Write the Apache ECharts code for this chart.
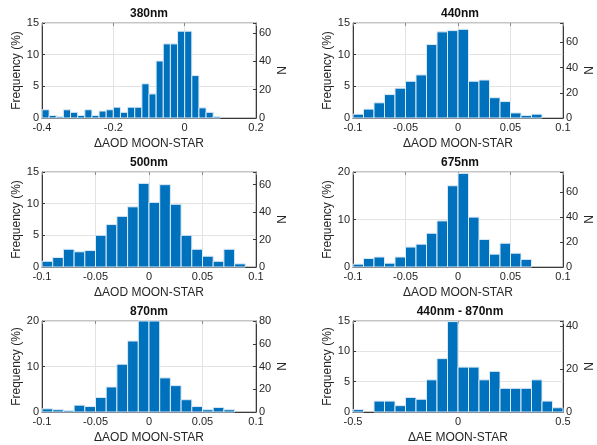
<!DOCTYPE html>
<html><head><meta charset="utf-8">
<script src="https://cdn.jsdelivr.net/npm/echarts@6/dist/echarts.min.js"></script>
<style>html,body{margin:0;padding:0;background:#fff}#c{width:597px;height:445px}</style>
</head><body><div id="c"></div>
<script>
// ---------------- data ----------------
const titles = ['380nm', '440nm', '500nm', '675nm', '870nm', '440nm - 870nm'];
const xNames = ['\u0394AOD MOON-STAR', '\u0394AOD MOON-STAR', '\u0394AOD MOON-STAR',
                '\u0394AOD MOON-STAR', '\u0394AOD MOON-STAR', '\u0394AE MOON-STAR'];

// x axis ranges and tick steps
const xMin = [-0.4, -0.1, -0.1, -0.1, -0.1, -0.5];
const xMax = [0.2, 0.1, 0.1, 0.1, 0.1, 0.5];
const xStep = [0.2, 0.05, 0.05, 0.05, 0.05, 0.5];
// left (frequency %) axis ranges
const yMax = [15, 15, 15, 20, 20, 15];
const yStep = [5, 5, 5, 10, 10, 5];
// N equivalent to 100 % (right axis scale)
const nTotal = [447, 502, 461, 380, 400, 282];
const nStep = [20, 20, 20, 20, 20, 20];

// histogram bins: first edge and bin width
const binStart = [-0.4, -0.1, -0.1, -0.1, -0.1, -0.5];
const binWidth = [0.02, 0.01, 0.01, 0.01, 0.01, 0.05];

// frequencies (%) per bin
const freq380 = [1.3, 0.4, 0.2, 1.3, 0.9, 0.4, 1.3, 0.4, 1.1, 1.3, 1.7, 0.9, 1.7, 1.7,
                 5.4, 3.8, 9.0, 11.7, 11.7, 13.7, 13.7, 6.7, 1.6, 0.9, 0.2];
const freq440 = [0.6, 1.4, 2.4, 3.7, 4.7, 5.8, 6.8, 11.6, 13.6, 13.8, 14.0,
                 5.8, 6.0, 3.2, 2.6, 0.8, 0.4, 0.6];
const freq500 = [0.9, 1.5, 2.8, 2.4, 2.6, 5.0, 6.7, 8.0, 9.5, 13.2, 10.2,
                 13.0, 9.9, 5.0, 2.8, 1.7, 0.9, 2.8, 0.5];
const freq675 = [0.6, 1.8, 2.1, 0.8, 2.1, 4.2, 4.8, 7.1, 9.7, 17.1, 19.7,
                 10.5, 5.8, 2.7, 5.0, 2.9, 1.6];
const freq870 = [0.7, 0.5, 0.3, 1.5, 1.2, 3.2, 5.5, 10.5, 15.6, 21.0, 20.4,
                 7.5, 5.8, 2.7, 1.2, 0.5, 1.0, 0.5];
const freqAE = [0.4, 0.0, 1.8, 1.8, 1.05, 2.4, 2.1, 5.3, 8.8, 14.9, 7.4, 7.4,
                5.3, 6.7, 3.9, 3.9, 3.9, 5.3, 1.8, 0.7];
const freqs = [freq380, freq440, freq500, freq675, freq870, freqAE];

// ---------------- layout / style ----------------
const FONT = '"Liberation Sans", Arial, Helvetica, sans-serif';
const gridLeft = [42, 353, 42, 353, 42, 353];
const gridTop = [23, 23, 172, 172, 321, 321];
const gridW = 214, gridH = 95;
const AX = '#3a3a3a', TXT = '#262626', GRIDC = '#e3e3e3';

function binData(i) {
  return freqs[i].map((f, k) => [binStart[i] + k * binWidth[i], binStart[i] + (k + 1) * binWidth[i], f]);
}

function renderBar(params, api) {
  const x0 = api.value(0), x1 = api.value(1), y = api.value(2);
  if (!(y > 0)) return null;
  const p0 = api.coord([x0, 0]);
  const p1 = api.coord([x1, y]);
  const cs = params.coordSys;
  const rect = echarts.graphic.clipRectByRect(
    { x: p0[0], y: p1[1], width: p1[0] - p0[0], height: p0[1] - p1[1] },
    { x: cs.x, y: cs.y, width: cs.width, height: cs.height });
  return rect && {
    type: 'rect', shape: rect,
    style: { fill: '#0072BD', stroke: '#dce9f5', lineWidth: 1 }
  };
}

const grid = [], xAxis = [], yAxis = [], series = [], title = [];
for (let i = 0; i < 6; i++) {
  grid.push({ left: gridLeft[i], top: gridTop[i], width: gridW, height: gridH,
              show: true, borderColor: '#8a8a8a', borderWidth: 1, containLabel: false });
  title.push({
    text: titles[i], left: gridLeft[i] + gridW / 2, top: gridTop[i] - 15, textAlign: 'center',
    padding: 0,
    textStyle: { fontFamily: FONT, fontSize: 12, fontWeight: 'bold', color: '#111' }
  });
  xAxis.push({
    type: 'value', gridIndex: i, min: xMin[i], max: xMax[i], interval: xStep[i],
    position: 'bottom',
    name: xNames[i], nameLocation: 'middle', nameGap: 20,
    nameTextStyle: { fontFamily: FONT, fontSize: 12, color: TXT },
    axisLine: { show: true, onZero: false, lineStyle: { color: AX, width: 1 } },
    axisTick: { show: true, inside: true, length: 3, lineStyle: { color: AX } },
    axisLabel: { fontFamily: FONT, fontSize: 11, color: TXT, margin: 4,
                 formatter: v => String(Math.round(v * 1000) / 1000) },
    splitLine: { show: true, lineStyle: { color: GRIDC, width: 1 } }
  });
  xAxis.push({
    type: 'value', gridIndex: i, min: xMin[i], max: xMax[i], interval: xStep[i],
    position: 'top',
    axisLine: { show: false, onZero: false },
    axisTick: { show: true, inside: true, length: 3, lineStyle: { color: '#8a8a8a' } },
    axisLabel: { show: false }, splitLine: { show: false }
  });
  yAxis.push({
    type: 'value', gridIndex: i, min: 0, max: yMax[i], interval: yStep[i],
    position: 'left',
    name: 'Frequency (%)', nameLocation: 'middle', nameGap: 17,
    nameTextStyle: { fontFamily: FONT, fontSize: 12, color: TXT },
    axisLine: { show: true, onZero: false, lineStyle: { color: AX, width: 1 } },
    axisTick: { show: true, inside: true, length: 3, lineStyle: { color: AX } },
    axisLabel: { fontFamily: FONT, fontSize: 11, color: TXT, margin: 3 },
    splitLine: { show: true, lineStyle: { color: GRIDC, width: 1 } }
  });
  const nMax = yMax[i] * nTotal[i] / 100;
  yAxis.push({
    type: 'value', gridIndex: i, min: 0, max: nMax, interval: nStep[i],
    position: 'right',
    name: 'N', nameLocation: 'middle', nameGap: 21,
    nameTextStyle: { fontFamily: FONT, fontSize: 12, color: TXT },
    axisLine: { show: true, onZero: false, lineStyle: { color: AX, width: 1 } },
    axisTick: { show: true, inside: true, length: 3, lineStyle: { color: AX } },
    axisLabel: { fontFamily: FONT, fontSize: 11, color: TXT, margin: 3,
                 formatter: v => (Math.abs(v / nStep[i] - Math.round(v / nStep[i])) < 1e-6 ? String(Math.round(v)) : '') },
    splitLine: { show: false }
  });
  series.push({
    type: 'custom', xAxisIndex: 2 * i, yAxisIndex: 2 * i,
    renderItem: renderBar, data: binData(i),
    encode: { x: [0, 1], y: 2 }, silent: true, animation: false
  });
}

const chart = echarts.init(document.getElementById('c'), null, { renderer: 'canvas' });
chart.setOption({ animation: false, backgroundColor: '#fff', title, grid, xAxis, yAxis, series });
</script></body></html>
